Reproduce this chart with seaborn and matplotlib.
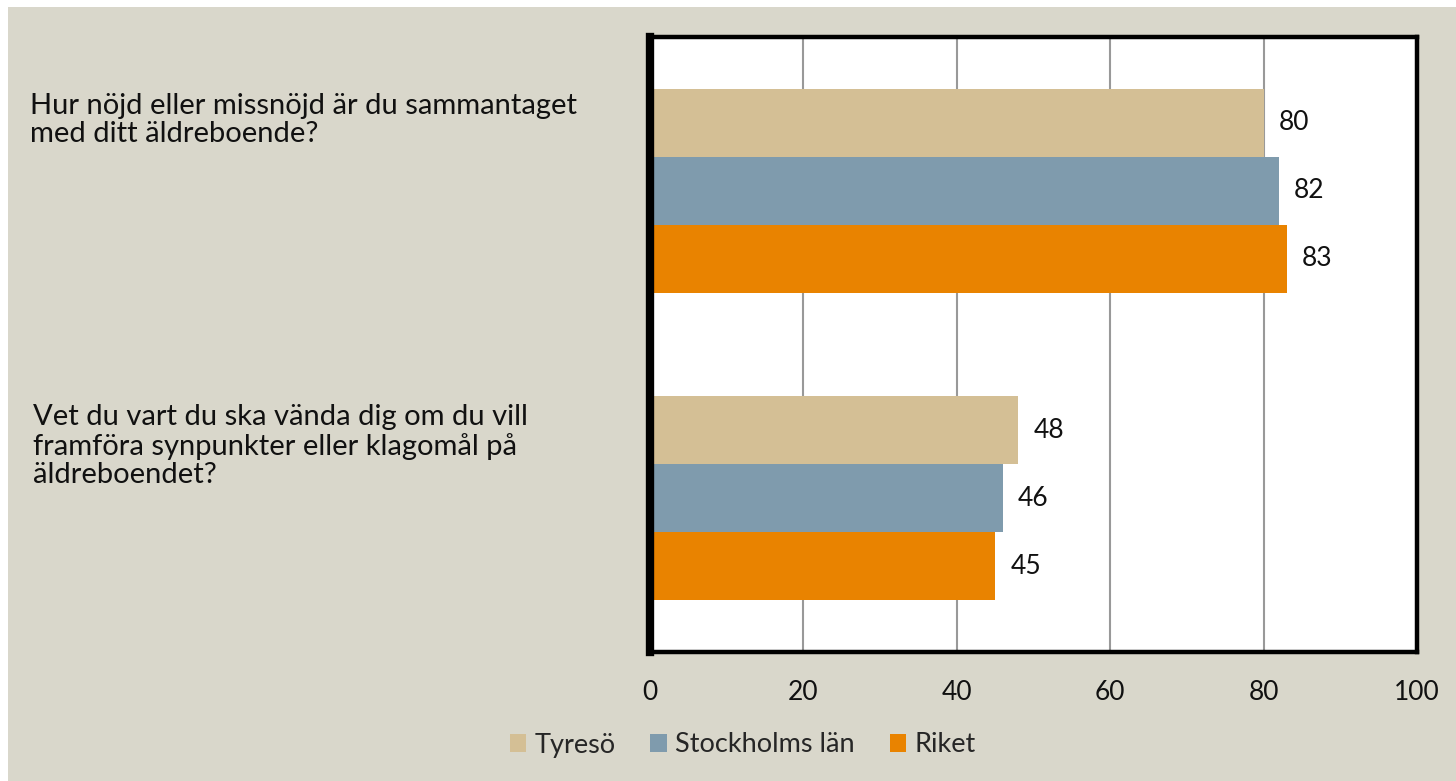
import seaborn as sns
import pandas as pd
import matplotlib.pyplot as plt
from matplotlib.patches import Rectangle
from matplotlib.transforms import blended_transform_factory

questions = ["Hur nöjd eller missnöjd är du sammantaget\nmed ditt äldreboende?",
             "Vet du vart du ska vända dig om du vill\nframföra synpunkter eller klagomål på\näldreboendet?"]
series = ["Tyresö", "Stockholms län", "Riket"]
tyreso = [80, 48]
stockholm = [82, 46]
riket = [83, 45]
colors = ["#D4BF95", "#7F9BAD", "#E98300"]
x_ticks = [0, 20, 40, 60, 80, 100]

bg = "#D9D7CB"

rows = []
for name, vals in zip(series, [tyreso, stockholm, riket]):
    for q, v in zip(questions, vals):
        rows.append({"question": q, "area": name, "value": v})
df = pd.DataFrame(rows)

sns.set_theme(style="white")
plt.rcParams['font.family'] = ['Lato', 'DejaVu Sans']

fig = plt.figure(figsize=(14.56, 7.81), dpi=100, facecolor="white")
# beige panel, white strip on top and left
fig.patches.append(Rectangle((8 / 1456, 0), 1, 1 - 7 / 781, transform=fig.transFigure,
                             facecolor=bg, edgecolor="none", zorder=-10))

ax = fig.add_axes([650 / 1456, 1 - 652 / 781, 767 / 1456, 615 / 781])
ax.set_facecolor("white")

sns.barplot(data=df, y="question", x="value", hue="area", hue_order=series,
            palette=colors, orient="h", width=0.664, ax=ax, saturation=1,
            edgecolor="none", linewidth=0, legend=True)

ax.set_xlim(0, 100)
ax.set_ylim(1.5, -0.5)
ax.set_xticks(x_ticks)
ax.set_xticklabels([str(t) for t in x_ticks], fontsize=19, color="#111111")
ax.tick_params(axis="x", length=0, pad=20)
ax.set_yticks([])
ax.set_xlabel("")
ax.set_ylabel("")
ax.grid(axis="x", color="#999999", linewidth=1.5, zorder=0)
ax.set_axisbelow(True)

for side, w in [("left", 6), ("top", 3.2), ("right", 3.2), ("bottom", 3.2)]:
    ax.spines[side].set_visible(True)
    ax.spines[side].set_color("black")
    ax.spines[side].set_linewidth(w)

for cont in ax.containers:
    ax.bar_label(cont, fmt="%d", padding=11, fontsize=19, color="#111111")

# question labels, left aligned in the left margin
trans = blended_transform_factory(fig.transFigure, ax.transData)
label_offsets = [-0.23, -0.17]
label_x = [30 / 1456, 33 / 1456]
for i, q in enumerate(questions):
    ax.text(label_x[i], i + label_offsets[i], q, transform=trans, ha="left", va="center",
            fontsize=21, color="#111111", linespacing=1.1)

handles, labels = ax.get_legend_handles_labels()
ax.get_legend().remove()
fig.legend(handles, labels, loc="center", bbox_to_anchor=(0.51, 1 - 745 / 781), ncol=3,
           frameon=False, fontsize=19.5, handlelength=0.6, handleheight=0.6,
           handletextpad=0.3, columnspacing=1.3)

fig.savefig("out.png", dpi=100, facecolor=fig.get_facecolor())
